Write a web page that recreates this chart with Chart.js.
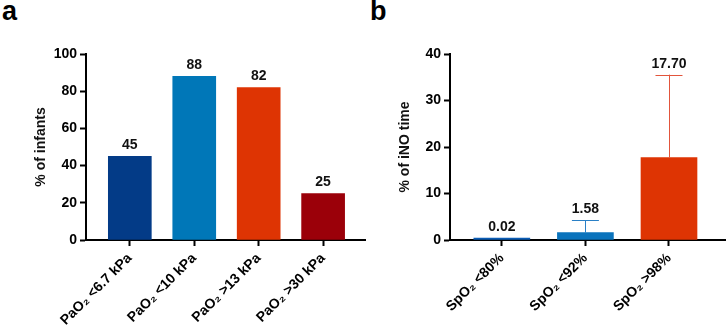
<!DOCTYPE html>
<html>
<head>
<meta charset="utf-8">
<script src="https://cdn.jsdelivr.net/npm/chart.js@4.4.1/dist/chart.umd.min.js"></script>
<style>
  body { margin: 0; background: #fff; width: 728px; height: 329px; overflow: hidden; position: relative; }
  canvas { position: absolute; top: 0; }
  #chartA { left: 0; }
  #chartB { left: 364px; }
  .panel { position: absolute; top: -4px; font: bold 27px "Liberation Sans", Arial, sans-serif; color: #000; }
</style>
</head>
<body>
<div class="panel" style="left:2px">a</div>
<div class="panel" style="left:370px">b</div>
<canvas id="chartA" width="368" height="329"></canvas>
<canvas id="chartB" width="364" height="329"></canvas>
<script>
// panel a
const categoriesA = ['PaO\u2082 <6.7 kPa', 'PaO\u2082 <10 kPa', 'PaO\u2082 >13 kPa', 'PaO\u2082 >30 kPa'];
const valuesA = [45, 88, 82, 25];
const colorsA = ['#033B87', '#0077B8', '#DE3403', '#9B0009'];
const yTicksA = [0, 20, 40, 60, 80, 100];

// panel b
const categoriesB = ['SpO\u2082 <80%', 'SpO\u2082 <92%', 'SpO\u2082 >98%'];
const valuesB = [0.02, 1.58, 17.70];
const sdB = [0, 2.62, 17.86];
const colorsB = ['#0B5CB5', '#0A73BC', '#DE3403'];
const errColorsB = ['#0B5CB5', '#2A80C6', '#E2553C'];
const yTicksB = [0, 10, 20, 30, 40];

const FONT = '"Liberation Sans", Arial, sans-serif';

// error bars + value labels above each bar
const barLabels = {
  id: 'barLabels',
  afterDatasetsDraw(chart, args, opts) {
    const ctx = chart.ctx;
    const meta = chart.getDatasetMeta(0);
    const y = chart.scales.y;
    const vals = chart.data.datasets[0].data;
    meta.data.forEach((bar, i) => {
      const v = vals[i].y;
      let top = bar.y;
      const sd = opts.sd ? opts.sd[i] : 0;
      if (sd) {
        const yTop = y.getPixelForValue(v + sd);
        ctx.save();
        ctx.strokeStyle = opts.errColors[i];
        ctx.lineWidth = 1;
        ctx.beginPath();
        ctx.moveTo(Math.round(bar.x) + 0.5, bar.y);
        ctx.lineTo(Math.round(bar.x) + 0.5, yTop);
        ctx.moveTo(bar.x - opts.capWidth / 2, Math.round(yTop) + 0.5);
        ctx.lineTo(bar.x + opts.capWidth / 2, Math.round(yTop) + 0.5);
        ctx.stroke();
        ctx.restore();
        top = Math.min(top, yTop);
      }
      ctx.save();
      ctx.fillStyle = '#111';
      ctx.font = 'bold 14px ' + FONT;
      ctx.textAlign = 'center';
      ctx.textBaseline = 'bottom';
      ctx.fillText(v.toFixed(opts.decimals), bar.x, top - 4);
      ctx.restore();
    });
  }
};

function makeChart(id, cats, vals, colors, yTicks, title, xMin, xMax, barWidth, extra) {
  return new Chart(document.getElementById(id), {
    type: 'bar',
    data: {
      datasets: [{
        data: vals.map((v, i) => ({ x: i, y: v })),
        backgroundColor: colors,
        barThickness: barWidth,
        minBarLength: 2,
      }],
    },
    plugins: [barLabels],
    options: {
      responsive: false,
      animation: false,
      layout: { padding: { top: 54, right: 3, left: 0, bottom: 0 } },
      scales: {
        x: {
          type: 'linear',
          offset: false,
          min: xMin,
          max: xMax,
          afterBuildTicks: (scale) => {
            scale.ticks = cats.map((c, i) => ({ value: i }));
          },
          afterFit: (scale) => { scale.height = 89; },
          border: { display: true, color: '#000', width: 2 },
          grid: { offset: false, drawOnChartArea: false, drawTicks: true, tickLength: 6, tickWidth: 2, tickColor: '#000' },
          ticks: {
            autoSkip: false,
            minRotation: 45,
            maxRotation: 45,
            padding: 4,
            color: '#000',
            font: { family: FONT, size: 14, weight: 'bold' },
            callback: (v) => cats[v],
          },
        },
        y: {
          min: yTicks[0],
          max: yTicks[yTicks.length - 1],
          afterBuildTicks: (scale) => {
            scale.ticks = yTicks.map((t) => ({ value: t }));
          },
          afterFit: (scale) => { scale.width = 86; },
          border: { display: true, color: '#000', width: 2 },
          grid: { drawOnChartArea: false, drawTicks: true, tickLength: 6, tickWidth: 2, tickColor: '#000' },
          ticks: {
            padding: 3,
            color: '#000',
            font: { family: FONT, size: 14, weight: 'bold' },
          },
          title: {
            display: true,
            text: title,
            color: '#111',
            padding: { top: 33, bottom: 0 },
            font: { family: FONT, size: 14, weight: 'bold' },
          },
        },
      },
      plugins: {
        legend: { display: false },
        tooltip: { enabled: false },
        barLabels: extra,
      },
    },
  });
}

makeChart('chartA', categoriesA, valuesA, colorsA, yTicksA, '% of infants',
  -0.68, 3.65, 43, { decimals: 0 });

makeChart('chartB', categoriesB, valuesB, colorsB, yTicksB, '% of iNO time',
  -0.62, 2.67, 56, { decimals: 2, sd: sdB, errColors: errColorsB, capWidth: 27 });
</script>
</body>
</html>
